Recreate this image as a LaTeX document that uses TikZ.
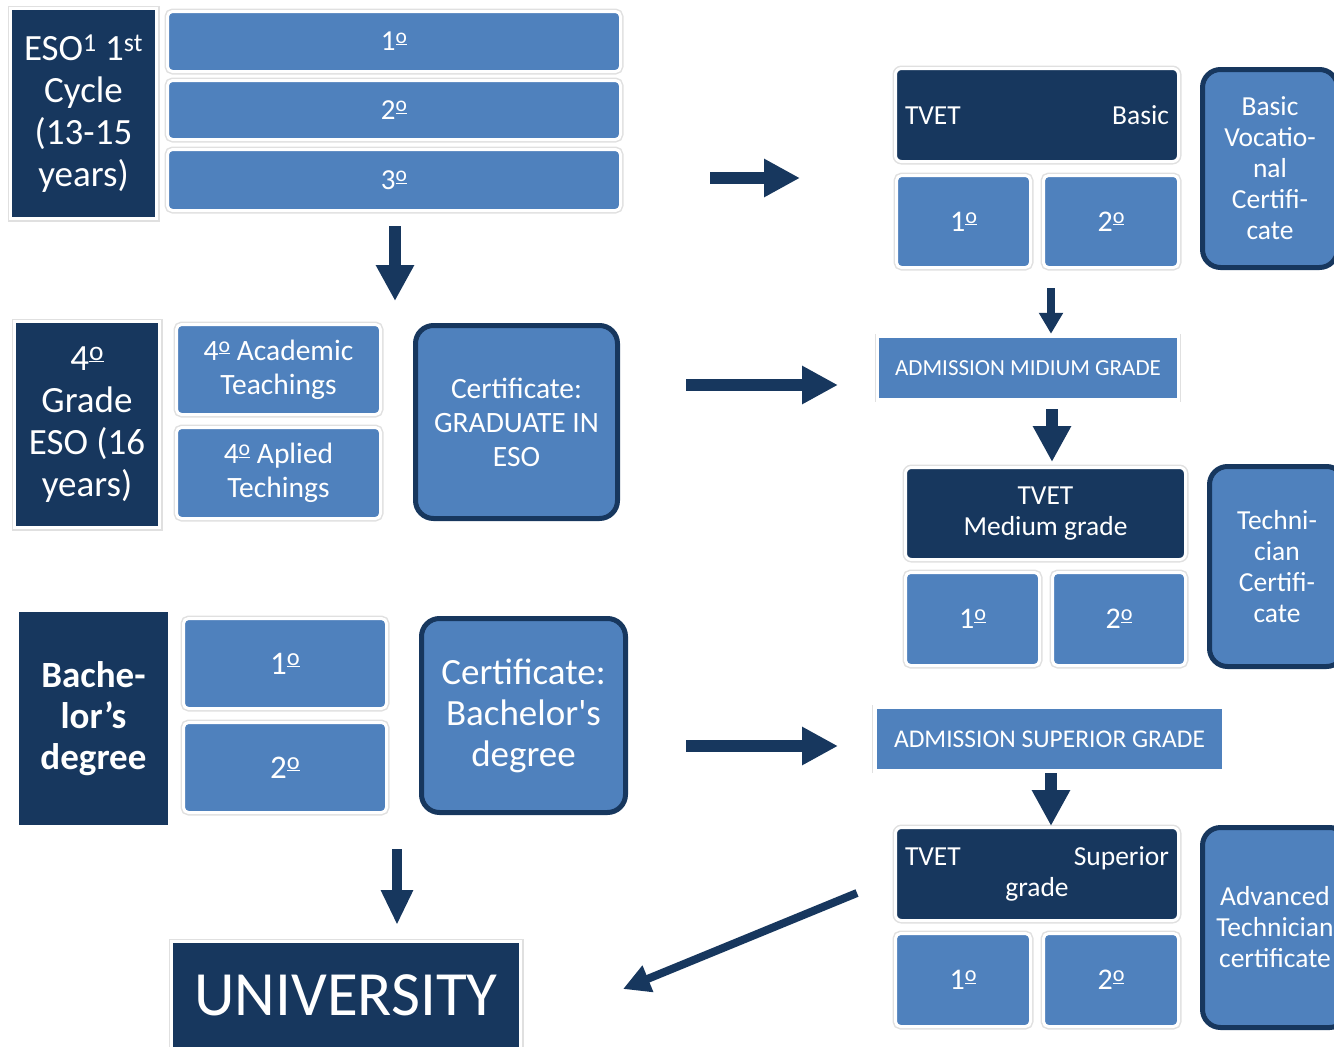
\documentclass[tikz,border=0pt]{standalone}
\usepackage{fontspec}
\setmainfont{Carlito}[Ligatures=TeXOff]
\usetikzlibrary{arrows.meta}

\definecolor{navy}{RGB}{23,55,94}
\definecolor{steel}{RGB}{79,129,189}
\newcommand{\fs}[2]{\fontsize{#1}{#2}\selectfont}
\newcommand{\ordm}{\raisebox{0.27em}{\scalebox{0.74}{\underline{o}}}}

\begin{document}
\begin{tikzpicture}[x=1pt, y=-1pt,
	halo/.style={preaction={draw=black!12, line width=6pt}, draw=white, line width=3pt},
	darkbox/.style={halo, fill=navy, text=white, inner sep=0pt, align=center},
	plainbox/.style={fill=navy, text=white, inner sep=0pt, align=center},
	tvetbox/.style={darkbox, rounded corners=6pt},
	yearbox/.style={halo, fill=steel, text=white, rounded corners=5pt, inner sep=0pt, align=center},
	certbox/.style={fill=steel, draw=navy, line width=5pt, rounded corners=18pt, text=white, inner sep=0pt, align=center},
	admbox/.style={fill=steel, text=white, inner sep=0pt},
	bigarrow/.style={navy, line width=12pt, -{Triangle[width=36pt,length=36pt]}},
	smallarrow/.style={navy, line width=8pt, -{Triangle[width=23pt,length=21pt]}},
	slantarrow/.style={navy, line width=8pt, -{Triangle[width=27pt,length=27pt]}}]

	\useasboundingbox (0,0) rectangle (1334,1047);

	% ESO first cycle
	\node [darkbox, minimum width=146pt, minimum height=210pt, font={\fs{37}{42}}] (eso1) at (83.5,113.5)
	{ESO\textsuperscript{1} 1\textsuperscript{st}\\Cycle\\(13-15\\years)};
	\node [yearbox, minimum width=453pt, minimum height=60pt, font={\fs{29}{32}}] (y1) at (394,41.5) {1\ordm};
	\node [yearbox, minimum width=453pt, minimum height=59pt, font={\fs{29}{32}}] (y2) at (394,110)  {2\ordm};
	\node [yearbox, minimum width=453pt, minimum height=61pt, font={\fs{29}{32}}] (y3) at (394,180)  {3\ordm};

	% ESO fourth grade
	\node [darkbox, minimum width=145pt, minimum height=206pt, font={\fs{37}{42}}] (eso4) at (87,424.5)
	{4\ordm\\Grade\\ESO (16\\years)};
	\node [yearbox, minimum width=204pt, minimum height=90pt, font={\fs{29.5}{34}}] (acad) at (278.5,369.5) {4\ordm{} Academic\\Teachings};
	\node [yearbox, minimum width=204pt, minimum height=91pt, font={\fs{29.5}{34}}] (apli) at (278.5,473) {4\ordm{} Aplied\\Techings};
	\node [certbox, minimum width=202pt, minimum height=193pt, font={\fs{29.5}{34}}] (cert1) at (516.5,422)
	{Certificate:\\GRADUATE IN\\ESO};

	% Bachelor
	\node [plainbox, minimum width=149pt, minimum height=213pt, font={\fs{37}{41}\bfseries}] (bach) at (93.5,718.5)
	{Bache-\\lor’s\\degree};
	\node [yearbox, minimum width=203pt, minimum height=90pt, font={\fs{33}{36}}] (b1) at (285,663.5) {1\ordm};
	\node [yearbox, minimum width=203pt, minimum height=90pt, font={\fs{33}{36}}] (b2) at (285,767.5) {2\ordm};
	\node [certbox, minimum width=204pt, minimum height=194pt, font={\fs{37}{41}}] (cert2) at (523.5,715.5)
	{Certificate:\\Bachelor's\\degree};
	\node [darkbox, minimum width=349pt, minimum height=107pt, font={\fs{63}{68}}] (uni) at (346,995) {UNIVERSITY};

	% TVET basic
	\node [tvetbox, minimum width=283pt, minimum height=93pt, text width=264pt, font={\fs{27.5}{31}}] (tb) at (1037,115)
	{TVET\hspace{\fill}Basic};
	\node [yearbox, minimum width=134pt, minimum height=92pt, font={\fs{30}{33}}] (tb1) at (963.5,221.5) {1\ordm};
	\node [yearbox, minimum width=135pt, minimum height=92pt, font={\fs{30}{33}}] (tb2) at (1111,221.5) {2\ordm};
	\node [certbox, minimum width=135pt, minimum height=198pt, font={\fs{27.5}{31}}] (vc) at (1270,168.5)
	{Basic\\Vocatio-\\nal\\Certifi-\\cate};

	% TVET medium grade
	\node [admbox, minimum width=298pt, minimum height=60pt, font={\fs{23}{26}}] (adm1) at (1028,368) {ADMISSION MIDIUM GRADE};
	\node [tvetbox, minimum width=280pt, minimum height=92pt, font={\fs{27.5}{31}}] (tm) at (1045.5,513.5)
	{TVET\\Medium grade};
	\node [yearbox, minimum width=134pt, minimum height=93pt, font={\fs{30}{33}}] (tm1) at (972.5,619) {1\ordm};
	\node [yearbox, minimum width=133pt, minimum height=93pt, font={\fs{30}{33}}] (tm2) at (1119,619) {2\ordm};
	\node [certbox, minimum width=135pt, minimum height=200pt, font={\fs{27.5}{31}}] (tc) at (1277,566.5)
	{Techni-\\cian\\Certifi-\\cate};

	% TVET superior grade
	\node [admbox, minimum width=345pt, minimum height=60pt, font={\fs{25.5}{28}}] (adm2) at (1049.5,739) {ADMISSION SUPERIOR GRADE};
	\node [tvetbox, minimum width=283pt, minimum height=93pt, text width=264pt, font={\fs{27.5}{31}}] (ts) at (1037,874)
	{TVET\hspace{\fill}Superior\\grade};
	\node [yearbox, minimum width=135pt, minimum height=93pt, font={\fs{30}{33}}] (ts1) at (963,980) {1\ordm};
	\node [yearbox, minimum width=135pt, minimum height=93pt, font={\fs{30}{33}}] (ts2) at (1111,980) {2\ordm};
	\node [certbox, minimum width=145pt, minimum height=200pt, font={\fs{27.5}{31}}] (atc) at (1275,927.5)
	{Advanced\\Technician\\certificate};

	% thin side lines of the admission boxes
	\draw [black!12, line width=1pt] ([shift={(-3pt,4pt)}]adm1.north west) -- ([shift={(-3pt,-4pt)}]adm1.south west);
	\draw [black!12, line width=1pt] ([shift={(3pt,4pt)}]adm1.north east) -- ([shift={(3pt,-4pt)}]adm1.south east);
	\draw [black!12, line width=1pt] ([shift={(-4pt,4pt)}]adm2.north west) -- ([shift={(-4pt,-4pt)}]adm2.south west);

	% Arrows
	\coordinate (a1) at (395,301);
	\coordinate (a2) at (800,178);
	\coordinate (a3) at (838,385);
	\coordinate (a4) at (1051,288);
	\coordinate (a5) at (1052,440);
	\coordinate (a6) at (838,746);
	\coordinate (a7) at (1051,800);
	\coordinate (a8) at (857,893);
	\coordinate (a9) at (623,989);
	\coordinate (a10) at (397,849);

	\path [bigarrow, shorten <=14pt] (y3.south -| a1) edge (a1);
	\path [bigarrow, shorten <=88pt] (y3.east |- a2) edge (a2);
	\path [bigarrow, shorten <=66pt] (cert1.east |- a3) edge (a3);
	\path [bigarrow, shorten <=58pt] (cert2.east |- a6) edge (a6);
	\path [smallarrow, shorten >=4pt] (a4) edge (a4 |- adm1.north);
	\path [bigarrow, shorten <=11pt, shorten >=4pt] (adm1.south -| a5) edge (a5 |- tm.north);
	\path [bigarrow, shorten <=4pt] (adm2.south -| a7) edge (a7 |- ts.north);
	\path [slantarrow] (a8) edge (a9);
	\path [bigarrow, line width=10pt, -{Triangle[width=30pt,length=35pt]}, shorten >=15pt] (a10) edge (a10 |- uni.north);

\end{tikzpicture}
\end{document}
